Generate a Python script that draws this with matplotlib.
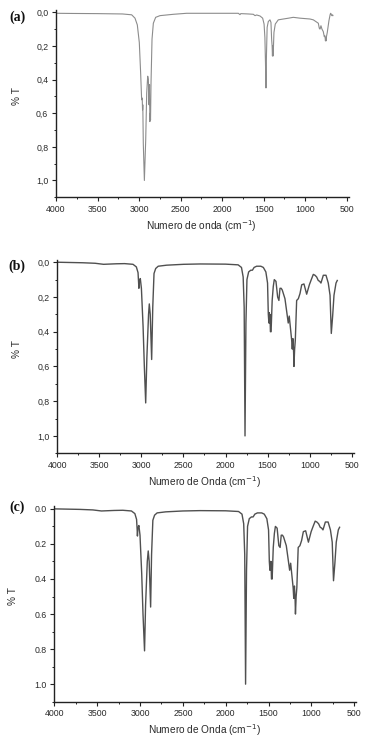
import matplotlib
matplotlib.use("Agg")
import matplotlib.pyplot as plt
from matplotlib.ticker import MultipleLocator, FuncFormatter

plt.rcParams['font.family'] = ['Liberation Sans', 'DejaVu Sans']

# ---------------- data ----------------
wn_a = [4000, 3800, 3500, 3200, 3089, 3049, 3021, 2997, 2981, 2969, 2962, 2958, 2955,
        2949, 2936, 2920, 2908, 2896, 2888, 2880, 2874, 2870, 2866, 2862, 2856, 2844,
        2828, 2800, 2748, 2587, 2427, 2200, 1865, 1805, 1785, 1775, 1685, 1624, 1604,
        1584, 1544, 1512, 1495, 1485, 1478, 1472, 1466, 1458, 1444, 1424, 1412, 1404,
        1398, 1394, 1390, 1386, 1383, 1376, 1360, 1324, 1263, 1200, 1143, 1063, 942,
        902, 842, 830, 822, 810, 798, 782, 770, 762, 756, 752, 748, 744, 734, 714, 700,
        694, 688, 680, 670, 666]
tr_a = [0.006, 0.007, 0.008, 0.010, 0.015, 0.035, 0.075, 0.18, 0.36, 0.52, 0.51, 0.58,
        0.55, 0.78, 1.0, 0.76, 0.48, 0.38, 0.40, 0.55, 0.43, 0.65, 0.60, 0.64, 0.42, 0.16,
        0.065, 0.03, 0.02, 0.012, 0.006, 0.006, 0.006, 0.006, 0.014, 0.008, 0.010, 0.012,
        0.020, 0.016, 0.022, 0.035, 0.07, 0.15, 0.30, 0.45, 0.25, 0.09, 0.055, 0.045, 0.06,
        0.16, 0.20, 0.26, 0.20, 0.26, 0.22, 0.12, 0.07, 0.045, 0.040, 0.035, 0.030, 0.035,
        0.040, 0.045, 0.065, 0.095, 0.10, 0.08, 0.10, 0.115, 0.145, 0.14, 0.17, 0.15, 0.17,
        0.145, 0.12, 0.05, 0.015, 0.006, 0.010, 0.02, 0.015, 0.02]

wn_b = [4000, 3700, 3550, 3450, 3300, 3200, 3100, 3060, 3040, 3033, 3030, 3024, 3013,
        3000, 2980, 2965, 2949, 2935, 2915, 2906, 2895, 2878, 2865, 2850, 2830, 2800,
        2700, 2500, 2300, 2000, 1850, 1810, 1790, 1778, 1768, 1757, 1745, 1725, 1700,
        1680, 1660, 1630, 1580, 1550, 1520, 1500, 1491, 1484, 1480, 1476, 1471, 1466,
        1458, 1445, 1432, 1420, 1400, 1380, 1365, 1352, 1338, 1325, 1293, 1265, 1254,
        1242, 1213, 1206, 1198, 1190, 1186, 1178, 1170, 1154, 1134, 1114, 1094, 1067,
        1035, 1003, 980, 956, 936, 916, 897, 880, 865, 837, 805, 778, 757, 742, 726,
        710, 686, 671]
tr_b = [0.0, 0.003, 0.006, 0.012, 0.009, 0.008, 0.012, 0.027, 0.06, 0.12, 0.15, 0.11,
        0.094, 0.15, 0.37, 0.60, 0.81, 0.55, 0.30, 0.24, 0.30, 0.56, 0.26, 0.065, 0.036,
        0.023, 0.017, 0.012, 0.010, 0.011, 0.015, 0.03, 0.085, 0.26, 1.0, 0.35, 0.10,
        0.056, 0.046, 0.046, 0.030, 0.023, 0.023, 0.030, 0.056, 0.12, 0.30, 0.35, 0.29,
        0.35, 0.30, 0.40, 0.40, 0.22, 0.14, 0.10, 0.11, 0.20, 0.22, 0.15, 0.15, 0.16,
        0.21, 0.31, 0.35, 0.31, 0.45, 0.50, 0.44, 0.52, 0.60, 0.50, 0.45, 0.22, 0.21,
        0.18, 0.13, 0.125, 0.184, 0.13, 0.10, 0.070, 0.075, 0.085, 0.105, 0.11, 0.12,
        0.075, 0.075, 0.12, 0.19, 0.41, 0.31, 0.19, 0.12, 0.105]

wn_c = [4000, 3700, 3550, 3450, 3300, 3200, 3100, 3060, 3040, 3033, 3030, 3024, 3013,
        3000, 2980, 2965, 2947, 2935, 2915, 2904, 2893, 2876, 2865, 2850, 2830, 2800,
        2700, 2500, 2300, 2000, 1850, 1810, 1790, 1778, 1768, 1757, 1745, 1725, 1700,
        1680, 1660, 1630, 1580, 1550, 1520, 1500, 1491, 1484, 1480, 1476, 1471, 1466,
        1458, 1445, 1432, 1420, 1400, 1380, 1365, 1352, 1338, 1325, 1293, 1265, 1254,
        1242, 1213, 1206, 1198, 1190, 1186, 1178, 1170, 1154, 1134, 1114, 1094, 1067,
        1035, 1003, 980, 956, 936, 916, 897, 880, 865, 837, 805, 778, 757, 742, 726,
        710, 686, 671]
tr_c = [0.0, 0.003, 0.006, 0.012, 0.009, 0.008, 0.012, 0.027, 0.06, 0.12, 0.155, 0.11,
        0.095, 0.15, 0.37, 0.60, 0.81, 0.55, 0.30, 0.24, 0.30, 0.56, 0.26, 0.065, 0.036,
        0.023, 0.017, 0.012, 0.010, 0.011, 0.015, 0.03, 0.085, 0.26, 1.0, 0.35, 0.10,
        0.056, 0.046, 0.046, 0.030, 0.023, 0.023, 0.030, 0.056, 0.12, 0.30, 0.35, 0.30,
        0.35, 0.30, 0.40, 0.40, 0.22, 0.14, 0.10, 0.11, 0.21, 0.22, 0.15, 0.15, 0.16,
        0.21, 0.31, 0.35, 0.31, 0.45, 0.51, 0.44, 0.52, 0.60, 0.50, 0.45, 0.22, 0.21,
        0.18, 0.13, 0.125, 0.19, 0.13, 0.10, 0.070, 0.075, 0.085, 0.105, 0.11, 0.12,
        0.075, 0.075, 0.12, 0.19, 0.41, 0.31, 0.19, 0.12, 0.105]

x_ticks = [4000, 3500, 3000, 2500, 2000, 1500, 1000, 500]
y_ticks = [0.0, 0.2, 0.4, 0.6, 0.8, 1.0]

panels = [
    dict(wn=wn_a, tr=tr_a, tag="(a)", xlabel="Numero de onda (cm$^{-1}$)", dec=",",
         color="#8c8c8c", lw=0.8, left=56.0, px_per_1000=83.06, bottom=197.3, px_per_unit=168.2,
         ylab_x=17, tag_y=17),
    dict(wn=wn_b, tr=tr_b, tag="(b)", xlabel="Numero de Onda (cm$^{-1}$)", dec=",",
         color="#505050", lw=1.0, left=57.3, px_per_1000=84.1, bottom=453.3, px_per_unit=173.7,
         ylab_x=17, tag_y=266),
    dict(wn=wn_c, tr=tr_c, tag="(c)", xlabel="Numero de Onda (cm$^{-1}$)", dec=".",
         color="#505050", lw=1.0, left=54.3, px_per_1000=85.7, bottom=701.7, px_per_unit=175.3,
         ylab_x=13, tag_y=507),
]

W, H = 383, 742
XMIN, XMAX = 4000, 475
YMAX, YMIN = 1.1, -0.015
fig = plt.figure(figsize=(W / 100, H / 100), dpi=100)
fig.patch.set_facecolor("white")

txt = "#2a2a2a"
for p in panels:
    wpx = (XMIN - XMAX) / 1000 * p["px_per_1000"]
    hpx = (YMAX - YMIN) * p["px_per_unit"]
    ax = fig.add_axes([p["left"] / W, (H - p["bottom"]) / H, wpx / W, hpx / H])
    ax.plot(p["wn"], p["tr"], color=p["color"], lw=p["lw"])
    ax.set_xlim(XMIN, XMAX)
    ax.set_ylim(YMAX, YMIN)
    for s in ("top", "right"):
        ax.spines[s].set_visible(False)
    for s in ("left", "bottom"):
        ax.spines[s].set_color("#222222")
        ax.spines[s].set_linewidth(1.0)
    ax.set_xticks(x_ticks)
    ax.set_yticks(y_ticks)
    ax.xaxis.set_minor_locator(MultipleLocator(250))
    ax.yaxis.set_minor_locator(MultipleLocator(0.1))
    ax.tick_params(which="major", direction="out", length=3, width=0.8, color="#222222",
                   labelsize=6.3, labelcolor=txt, pad=2.5)
    ax.tick_params(which="minor", direction="out", length=1.6, width=0.7, color="#222222")
    dec = p["dec"]
    ax.yaxis.set_major_formatter(FuncFormatter(lambda v, pos, d=dec: f"{v:.1f}".replace(".", d)))
    ax.xaxis.set_major_formatter(FuncFormatter(lambda v, pos: f"{int(v)}"))
    cx = p["left"] + (XMIN - 2250) / 1000 * p["px_per_1000"]
    fig.text(cx / W, 1 - (p["bottom"] + 28.4) / H, p["xlabel"], ha="center", va="center",
             fontsize=7.3, color=txt)
    ymid = p["bottom"] - 0.6 * p["px_per_unit"]
    fig.text(p["ylab_x"] / W, 1 - ymid / H, "% T", rotation=90, ha="center", va="center",
             fontsize=7.3, color=txt)
    fig.text(17 / W, 1 - p["tag_y"] / H, p["tag"], ha="center", va="center",
             fontsize=10, fontweight="bold", family=["Liberation Serif", "DejaVu Serif"],
             color="#111111")

fig.savefig("out.png", dpi=100)
